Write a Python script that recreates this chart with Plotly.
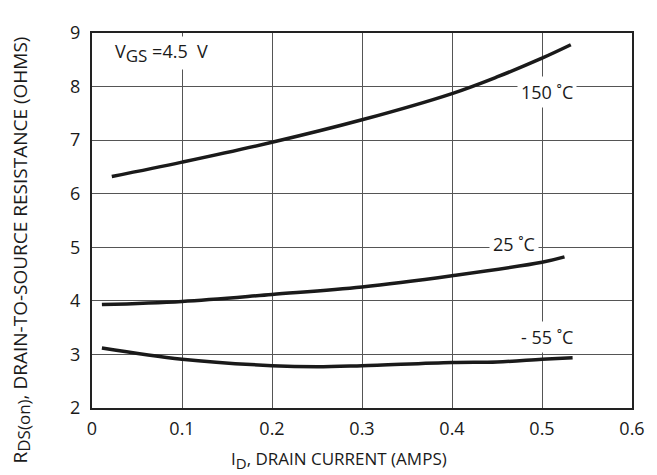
import plotly.graph_objects as go

# Data
x_150 = [0.022, 0.1, 0.2, 0.3, 0.4, 0.45, 0.5, 0.532]
y_150 = [6.32, 6.59, 6.96, 7.38, 7.87, 8.18, 8.53, 8.78]
x_25 = [0.011, 0.1, 0.2, 0.3, 0.4, 0.5, 0.525]
y_25 = [3.93, 3.99, 4.12, 4.26, 4.47, 4.72, 4.82]
x_m55 = [0.011, 0.1, 0.2, 0.25, 0.3, 0.4, 0.45, 0.5, 0.534]
y_m55 = [3.12, 2.91, 2.79, 2.77, 2.79, 2.85, 2.86, 2.91, 2.94]

x_ticks = [0, 0.1, 0.2, 0.3, 0.4, 0.5, 0.6]
x_tick_labels = ["0", "0.1", "0.2", "0.3", "0.4", "0.5", "0.6"]
y_ticks = [2, 3, 4, 5, 6, 7, 8, 9]

FONT = "Open Sans"
INK = "#1a1a1a"

fig = go.Figure()
for xs, ys in [(x_150, y_150), (x_25, y_25), (x_m55, y_m55)]:
    fig.add_trace(go.Scatter(x=xs, y=ys, mode="lines",
                             line=dict(color=INK, width=3.5, shape="spline", smoothing=1.0),
                             showlegend=False, hoverinfo="skip"))

labels = [
    (0.505, 7.89, "150 ˚C"),
    (0.469, 5.07, "25 ˚C"),
    (0.506, 3.32, "- 55 ˚C"),
]
for x, y, t in labels:
    fig.add_annotation(x=x, y=y, text=t, showarrow=False, bgcolor="white",
                       font=dict(family=FONT, size=18, color=INK), borderpad=3)

fig.add_annotation(x=0.022, y=8.62, xanchor="left",
                   text="V<sub><span style='font-size:17px'>GS</span></sub> =4.5  V",
                   showarrow=False, bgcolor="white",
                   font=dict(family=FONT, size=18, color=INK), borderpad=2)

# axis titles (placed as in the reference, off-centre)
fig.add_annotation(xref="paper", yref="paper", x=0.458, y=-0.138, yanchor="middle",
                   text="I<sub><span style='font-size:15px'>D</span></sub>, DRAIN CURRENT (AMPS)",
                   showarrow=False, font=dict(family=FONT, size=17, color=INK))
fig.add_annotation(xref="paper", yref="paper", x=0, xshift=-71, y=0.42,
                   xanchor="center", yanchor="middle", textangle=-90,
                   text="R<sub><span style='font-size:17px'>DS(on)</span></sub>, DRAIN-TO-SOURCE RESISTANCE (OHMS)",
                   showarrow=False, font=dict(family=FONT, size=19, color=INK))

fig.update_xaxes(range=[0, 0.6], tickvals=x_ticks, ticktext=x_tick_labels,
                 showgrid=True, gridcolor="#555555", gridwidth=1,
                 showline=True, linecolor="#222222", linewidth=2, mirror=True,
                 zeroline=False, ticks="", ticklabelstandoff=3,
                 tickfont=dict(family=FONT, size=18, color=INK))
fig.update_yaxes(range=[2, 9], tickvals=y_ticks,
                 showgrid=True, gridcolor="#555555", gridwidth=1,
                 showline=True, linecolor="#222222", linewidth=2, mirror=True,
                 zeroline=False, ticks="", ticklabelstandoff=6,
                 tickfont=dict(family=FONT, size=18, color=INK))

# page body has an 8px default margin; size the figure to compensate
fig.update_layout(width=649, height=467, plot_bgcolor="white", paper_bgcolor="white",
                  margin=dict(l=84, r=18, t=17, b=67))

fig.write_html("out.html")
